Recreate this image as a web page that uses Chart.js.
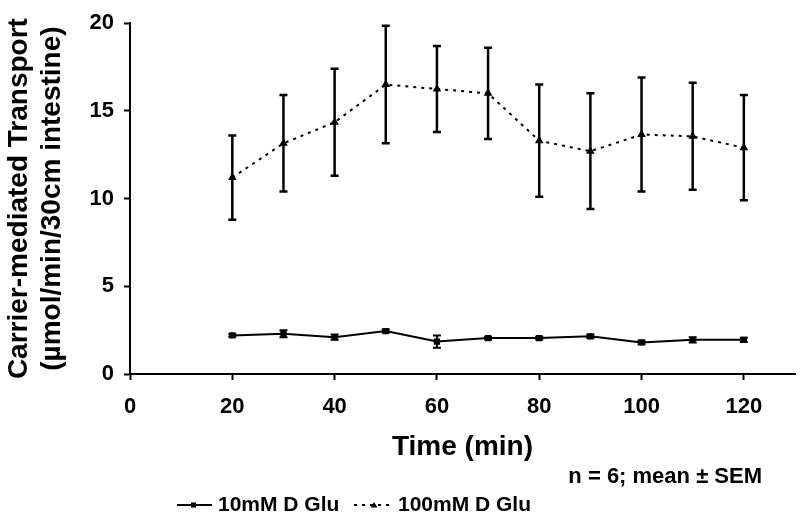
<!DOCTYPE html>
<html>
<head>
<meta charset="utf-8">
<script src="https://cdn.jsdelivr.net/npm/chart.js@4.4.1/dist/chart.umd.min.js"></script>
<style>
  html, body { margin: 0; padding: 0; background: #fff; }
  #wrap { width: 800px; height: 519px; }
</style>
</head>
<body>
<div id="wrap"><canvas id="chart" width="800" height="519"></canvas></div>
<script>
// data
const times = [20, 30, 40, 50, 60, 70, 80, 90, 100, 110, 120];
const glu10 = [2.2, 2.3, 2.1, 2.45, 1.85, 2.05, 2.05, 2.15, 1.8, 1.95, 1.95];
const glu10Sem = [0.08, 0.2, 0.15, 0.08, 0.35, 0.08, 0.08, 0.1, 0.1, 0.15, 0.12];
const glu100 = [11.2, 13.15, 14.35, 16.5, 16.25, 16.0, 13.3, 12.7, 13.65, 13.55, 12.9];
const glu100Sem = [2.4, 2.75, 3.05, 3.35, 2.45, 2.6, 3.2, 3.3, 3.25, 3.05, 3.0];
const xTicks = [0, 20, 40, 60, 80, 100, 120];
const yTicks = [0, 5, 10, 15, 20];

const FONT = '"Liberation Sans", Arial, sans-serif';

function points(ys) {
    return times.map((t, i) => ({ x: t, y: ys[i] }));
}

// vertical SEM bars
const errorBars = {
    id: 'errorBars',
    afterDatasetsDraw(chart) {
        const ctx = chart.ctx;
        const xs = chart.scales.x, ys = chart.scales.y;
        chart.data.datasets.forEach((ds) => {
            if (!ds.sem) return;
            ctx.save();
            ctx.strokeStyle = '#000';
            ctx.lineWidth = ds.barWidth;
            ctx.setLineDash([]);
            ds.data.forEach((p, i) => {
                const px = xs.getPixelForValue(p.x);
                const top = ys.getPixelForValue(p.y + ds.sem[i]);
                const bot = ys.getPixelForValue(p.y - ds.sem[i]);
                ctx.beginPath();
                ctx.moveTo(px, top); ctx.lineTo(px, bot);
                ctx.moveTo(px - 4, top); ctx.lineTo(px + 4, top);
                ctx.moveTo(px - 4, bot); ctx.lineTo(px + 4, bot);
                ctx.stroke();
            });
            ctx.restore();
        });
    }
};

// legend row + note under the axis
const bottomText = {
    id: 'bottomText',
    afterDraw(chart) {
        const ctx = chart.ctx;
        const ds = chart.data.datasets;
        ctx.save();
        ctx.fillStyle = '#000';
        ctx.strokeStyle = '#000';
        ctx.textBaseline = 'middle';

        ctx.font = 'bold 22px ' + FONT;
        ctx.textAlign = 'right';
        ctx.fillText('n = 6; mean ± SEM', 762, 477);

        ctx.font = 'bold 21px ' + FONT;
        ctx.textAlign = 'left';
        const ly = 505;
        // solid entry
        ctx.lineWidth = 2;
        ctx.beginPath(); ctx.moveTo(177, ly); ctx.lineTo(212, ly); ctx.stroke();
        ctx.fillRect(191, ly - 2.5, 5, 5);
        ctx.fillText(ds[0].label, 218, ly);
        // dotted entry
        ctx.setLineDash([3, 5]);
        ctx.beginPath(); ctx.moveTo(354, ly); ctx.lineTo(394, ly); ctx.stroke();
        ctx.setLineDash([]);
        ctx.beginPath();
        ctx.moveTo(374, ly - 3); ctx.lineTo(377.5, ly + 2.5); ctx.lineTo(370.5, ly + 2.5);
        ctx.closePath(); ctx.fill();
        ctx.fillText(ds[1].label, 398, ly);
        ctx.restore();
    }
};

new Chart(document.getElementById('chart'), {
    type: 'scatter',
    data: {
        datasets: [{
            label: '10mM D Glu',
            data: points(glu10),
            sem: glu10Sem,
            barWidth: 2,
            showLine: true,
            borderColor: '#000',
            backgroundColor: '#000',
            borderWidth: 2,
            pointStyle: 'rect',
            pointRadius: 3,
            pointHoverRadius: 3
        }, {
            label: '100mM D Glu',
            data: points(glu100),
            sem: glu100Sem,
            barWidth: 2.5,
            showLine: true,
            borderColor: '#000',
            backgroundColor: '#000',
            borderWidth: 2,
            borderDash: [3, 5],
            pointStyle: 'triangle',
            pointRadius: 3,
            pointHoverRadius: 3
        }]
    },
    options: {
        responsive: false,
        animation: false,
        layout: { padding: { top: 15, right: 5, bottom: 0, left: 0 } },
        plugins: {
            legend: { display: false },
            tooltip: { enabled: false }
        },
        scales: {
            x: {
                type: 'linear',
                min: 0,
                max: 130,
                afterFit(scale) { scale.height = 145; },
                afterBuildTicks(scale) { scale.ticks = xTicks.map(v => ({ value: v })); },
                grid: { drawOnChartArea: false, tickLength: 6, tickColor: '#000', tickWidth: 2 },
                border: { color: '#000', width: 2 },
                ticks: {
                    color: '#000',
                    padding: 14,
                    font: { family: FONT, size: 22, weight: 'bold' }
                },
                title: {
                    display: true,
                    text: 'Time (min)',
                    color: '#000',
                    padding: { top: 0, bottom: 55 },
                    font: { family: FONT, size: 28, weight: 'bold' }
                }
            },
            y: {
                min: 0,
                max: 20,
                afterFit(scale) { scale.width = 130; },
                afterBuildTicks(scale) { scale.ticks = yTicks.map(v => ({ value: v })); },
                grid: { drawOnChartArea: false, tickLength: 6, tickColor: '#000', tickWidth: 2 },
                border: { color: '#000', width: 2 },
                ticks: {
                    color: '#000',
                    padding: 10,
                    font: { family: FONT, size: 22, weight: 'bold' }
                },
                title: {
                    display: true,
                    text: ['Carrier-mediated Transport', '(µmol/min/30cm intestine)'],
                    color: '#000',
                    padding: { top: 2, bottom: 0 },
                    font: { family: FONT, size: 28, weight: 'bold', lineHeight: 1.2 }
                }
            }
        }
    },
    plugins: [errorBars, bottomText]
});
</script>
</body>
</html>
